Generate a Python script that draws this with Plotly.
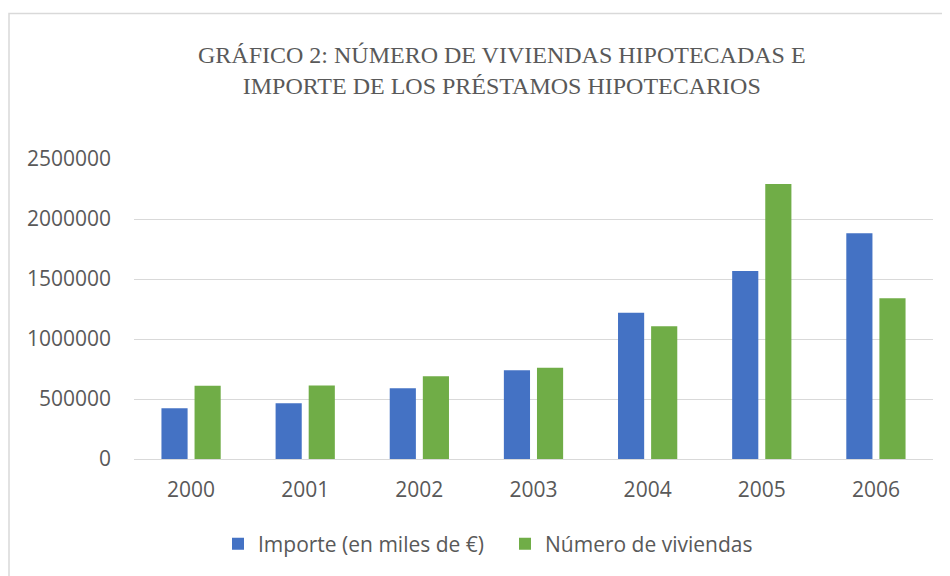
import plotly.graph_objects as go

years = ["2000", "2001", "2002", "2003", "2004", "2005", "2006"]
importe = [422000, 464000, 589000, 739000, 1219000, 1567000, 1881000]
viviendas = [611000, 613000, 689000, 761000, 1106000, 2292000, 1339000]
y_ticks = [0, 500000, 1000000, 1500000, 2000000, 2500000]
title_lines = ["GRÁFICO 2: NÚMERO DE VIVIENDAS HIPOTECADAS E",
               "IMPORTE DE LOS PRÉSTAMOS HIPOTECARIOS"]

# page body has an 8px margin: work in reference pixel coords, shifted by OFF
OFF = 8
W, H = 950 - OFF, 576 - OFF
PL, PR, PT, PB = 134, 933, 159, 459  # plot area in reference pixels
L, T = PL - OFF, PT - OFF
R, B = W - (PR - OFF), H - (PB - OFF)
PH = PB - PT
PW = PR - PL

def py(ypx):
    return 1 + (PT - ypx) / PH

def px(xpx):
    return (xpx - PL) / PW

txt = "#595959"
fig = go.Figure()
fig.add_trace(go.Bar(x=years, y=importe, name="Importe (en miles de €)",
                     marker=dict(color="#4472C4", line=dict(width=0))))
fig.add_trace(go.Bar(x=years, y=viviendas, name="Número de viviendas",
                     marker=dict(color="#70AD47", line=dict(width=0))))

annotations = [dict(text="<br>".join(title_lines), xref="paper", yref="paper",
                    x=px(502), y=py(70), xanchor="center", yanchor="middle",
                    showarrow=False, align="center",
                    font=dict(family="Liberation Serif", size=24, color=txt))]

fig.update_layout(
    width=W, height=H,
    margin=dict(l=L, r=R, t=T, b=B),
    paper_bgcolor="white", plot_bgcolor="white",
    barmode="group", bargap=0.42, bargroupgap=0.21,
    showlegend=True,
    legend=dict(orientation="h", x=px(218), xanchor="left", y=py(544), yanchor="middle",
                font=dict(family="Open Sans", size=21, color=txt),
                itemwidth=30, entrywidth=242, traceorder="normal"),
    annotations=annotations,
    shapes=[dict(type="rect", xref="paper", yref="paper",
                 x0=px(9), x1=1.2, y0=-0.6, y1=py(13.5),
                 line=dict(color="#D9D9D9", width=1.5), layer="below")],
    xaxis=dict(showgrid=False, showline=False, ticks="",
               tickfont=dict(family="Open Sans", size=21, color=txt),
               ticklabelstandoff=16),
    yaxis=dict(range=[0, 2500000], tickvals=y_ticks, ticktext=[str(v) for v in y_ticks],
               showgrid=True, gridcolor="#D9D9D9", gridwidth=1.3,
               zeroline=True, zerolinecolor="#D9D9D9", zerolinewidth=1.3,
               showline=False, ticks="",
               tickfont=dict(family="Open Sans", size=21, color=txt),
               ticklabelstandoff=22),
)
fig.write_html("out.html")
